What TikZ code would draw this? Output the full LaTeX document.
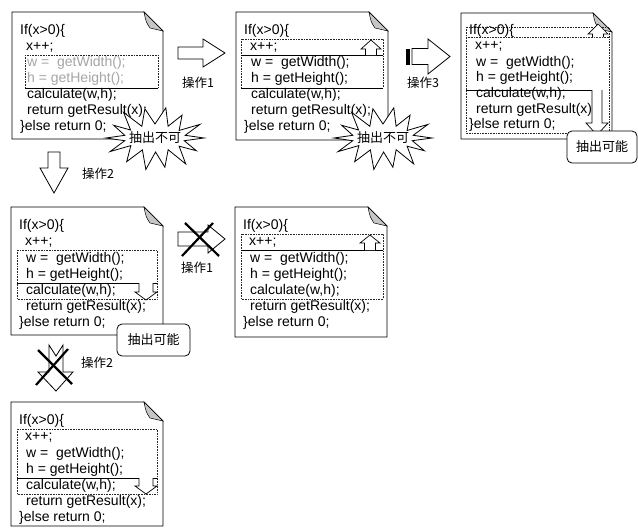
\documentclass[tikz,border=0pt]{standalone}
\usepackage{fontspec}
\setmainfont{Liberation Sans}
\newfontfamily\jpfont{Noto Sans CJK JP}
\usetikzlibrary{calc}
\tikzset{
  docline/.style={draw=black, line width=0.8pt, fill=white, line join=miter},
  fold/.style={draw=black, line width=0.5pt, fill=gray!45},
  code/.style={anchor=west, inner sep=0pt, font=\fontsize{14}{16}\selectfont},
  gcode/.style={text=gray!70},
  dbox/.style={draw=black!85, line width=0.6pt, densely dotted},
  sepline/.style={draw=black, line width=0.7pt},
  bigarrow/.style={draw=black, line width=0.8pt, fill=white, line join=miter},
  smallarrow/.style={draw=black, line width=0.7pt, fill=white, line join=miter},
  lab/.style={inner sep=0pt, font=\jpfont\fontsize{12.5}{14}\selectfont},
  crossline/.style={draw=black, line width=2.2pt},
  okbox/.style={draw=black, line width=0.8pt, fill=white, rounded corners=5pt, inner sep=0pt, font=\jpfont\fontsize{13}{15}\selectfont},
  burst/.style={draw=black, line width=0.8pt, fill=white, line join=miter},
  bursttext/.style={inner sep=0pt, font=\jpfont\fontsize{13}{15}\selectfont},
}
% document outline: name, L, T, R, B
\newcommand\docshape[5]{%
  \draw[docline] (#2,#3) -- ({#4-19},#3) -- (#4,{#3+19}) -- (#4,#5) -- (#2,#5) -- cycle;
  \draw[fold] ({#4-19},#3) .. controls ({#4-17},{#3+10}) .. ({#4-13},{#3+16}) -- (#4,{#3+19}) -- cycle;
  \coordinate (#1) at (#2,#3);
}
% code lines: name, L, first y, dy, style of w/h lines, return line
\newcommand\doctext[6]{%
  \node[code] (#1-0) at ({#2+8},{#3}) {If(x>0)\{};
  \node[code] (#1-1) at ({#2+14},{#3+#4}) {x++;};
  \node[code,#5] (#1-2) at ({#2+15},{#3+2*#4}) {w =\ \ getWidth();};
  \node[code,#5] (#1-3) at ({#2+15},{#3+3*#4}) {h = getHeight();};
  \node[code] (#1-4) at ({#2+15},{#3+4*#4}) {calculate(w,h);};
  \node[code] (#1-5) at ({#2+15},{#3+5*#4}) {#6};
  \node[code] (#1-6) at ({#2+8},{#3+6*#4}) {\}else return 0;};
}
% small up arrow: cx, tip, head base, bottom
\newcommand\uparr[4]{%
  \draw[smallarrow] ({#1-5.5},#4) -- ({#1-5.5},#3) -- ({#1-10},#3) -- (#1,#2) -- ({#1+10},#3) -- ({#1+5.5},#3) -- ({#1+5.5},#4);
}
% small down arrow: cx, top, head base, tip, shaft half, head half
\newcommand\downarr[6]{%
  \draw[smallarrow] ({#1-#5},#2) -- ({#1-#5},#3) -- ({#1-#6},#3) -- (#1,#4) -- ({#1+#6},#3) -- ({#1+#5},#3) -- ({#1+#5},#2);
}
% starburst: name, cx, cy, text
\newcommand\drawburst[4]{%
  \draw[burst, shift={(#2,#3)}] (0:49 and 31) -- (13:30 and 12) -- (26:46 and 29) -- (39:31 and 13)
    -- (52:50 and 33) -- (64:30 and 13) -- (77:44 and 30) -- (89:31 and 14) -- (101:48 and 32)
    -- (114:31 and 13) -- (128:46 and 30) -- (141:31 and 12) -- (154:50 and 31) -- (167:31 and 12)
    -- (180:49 and 31) -- (193:31 and 12) -- (206:46 and 29) -- (218:31 and 13) -- (231:50 and 33)
    -- (244:30 and 13) -- (257:45 and 30) -- (270:31 and 14) -- (283:48 and 31) -- (295:31 and 13)
    -- (308:44 and 29) -- (321:31 and 12) -- (334:50 and 31) -- (347:31 and 12) -- cycle;
  \node[bursttext] (#1) at (#2,#3) {#4};
}
\begin{document}
\begin{tikzpicture}[x=1pt,y=-1pt]
\useasboundingbox (0,0) rectangle (638,528);

% ---------- document 1 ----------
\docshape{doc1}{12}{12}{163}{139}
\draw[dbox] (25,55) rectangle (158,88);
\draw[sepline] (25,88) -- (158,88);
\doctext{t1}{12}{31}{16}{gcode}{return getResult(x);}
\drawburst{ng1}{155}{138}{抽出不可}

% ---------- arrow op1 ----------
\draw[bigarrow] (178,47) -- (203,47) -- (203,39) -- (225,53) -- (203,67) -- (203,59) -- (178,59) -- cycle;
\node[lab] (op1) at (198,83) {操作1};

% ---------- document 2 ----------
\docshape{doc2}{236}{12}{388}{140}
\draw[dbox] (241,39) rectangle (383,88);
\draw[sepline] (241,55) -- (383,55);
\draw[sepline] (241,88) -- (383,88);
\doctext{t2}{236}{31}{16}{}{return getResult(x);}
\uparr{371}{40}{49}{55}
\drawburst{ng2}{383}{138}{抽出不可}

% ---------- arrow op3 ----------
\fill[black] (405.5,48.5) rectangle (409.5,64.5);
\draw[bigarrow] (412,48.5) -- (428,48.5) -- (428,39) -- (450,56.5) -- (428,74) -- (428,64.5) -- (412,64.5) -- cycle;
\node[lab] (op3) at (423,83) {操作3};

% ---------- document 3 ----------
\docshape{doc3}{461}{13}{612}{139}
\draw[dbox] (466,27) rectangle (609,133);
\draw[dbox] (466,37) -- (609,37);
\doctext{t3}{461}{31}{15.7}{}{return getResult(x);}
\draw[sepline] (466,90) -- (592,90);
\uparr{598}{24}{34}{37}
\downarr{597}{90}{123}{135}{5}{11}
\node[okbox, minimum width=70pt, minimum height=32pt] (ok1) at (602,147) {抽出可能};

% ---------- arrow op2 (down) ----------
\draw[bigarrow] (48,152) -- (60,152) -- (60,168) -- (68,168) -- (54,193) -- (40,168) -- (48,168) -- cycle;
\node[lab] (op2) at (98,174) {操作2};

% ---------- document 4 ----------
\docshape{doc4}{11}{207}{163}{335}
\draw[dbox] (17,250) rectangle (157,299);
\draw[sepline] (17,283) -- (157,283);
\doctext{t4}{11}{226}{16.2}{}{return getResult(x);}
\downarr{146}{283}{292}{300}{7}{11}
\node[okbox, minimum width=73pt, minimum height=32pt] (ok2) at (153.5,340) {抽出可能};

% ---------- crossed arrow op1 ----------
\draw[bigarrow] (178,232) -- (208,232) -- (208,225) -- (225,239) -- (208,253) -- (208,246) -- (178,246) -- cycle;
\draw[crossline] (185,223) -- (219,256);
\draw[crossline] (213,223) -- (182,256);
\node[lab] (op1x) at (197,268) {操作1};

% ---------- document 5 ----------
\docshape{doc5}{235}{207}{387}{337}
\draw[dbox] (241,234) rectangle (383,299);
\draw[sepline] (241,250) -- (383,250);
\doctext{t5}{235}{226}{16.2}{}{return getResult(x);}
\uparr{370}{235}{243}{250}

% ---------- crossed arrow op2 ----------
\draw[bigarrow] (49,345) -- (56,356) -- (63,345) -- (63,372) -- (73,372) -- (56,391) -- (38,372) -- (49,372) -- cycle;
\draw[crossline] (38,350) -- (72,384);
\draw[crossline] (68,349) -- (36,385);
\node[lab] (op2x) at (97,363) {操作2};

% ---------- document 6 ----------
\docshape{doc6}{11}{402}{163}{526}
\draw[dbox] (17,429) rectangle (157,494);
\draw[sepline] (17,478) -- (157,478);
\doctext{t6}{11}{421}{16.2}{}{return getResult(x);}
\downarr{146}{478}{486}{494}{7}{11}
\end{tikzpicture}
\end{document}
